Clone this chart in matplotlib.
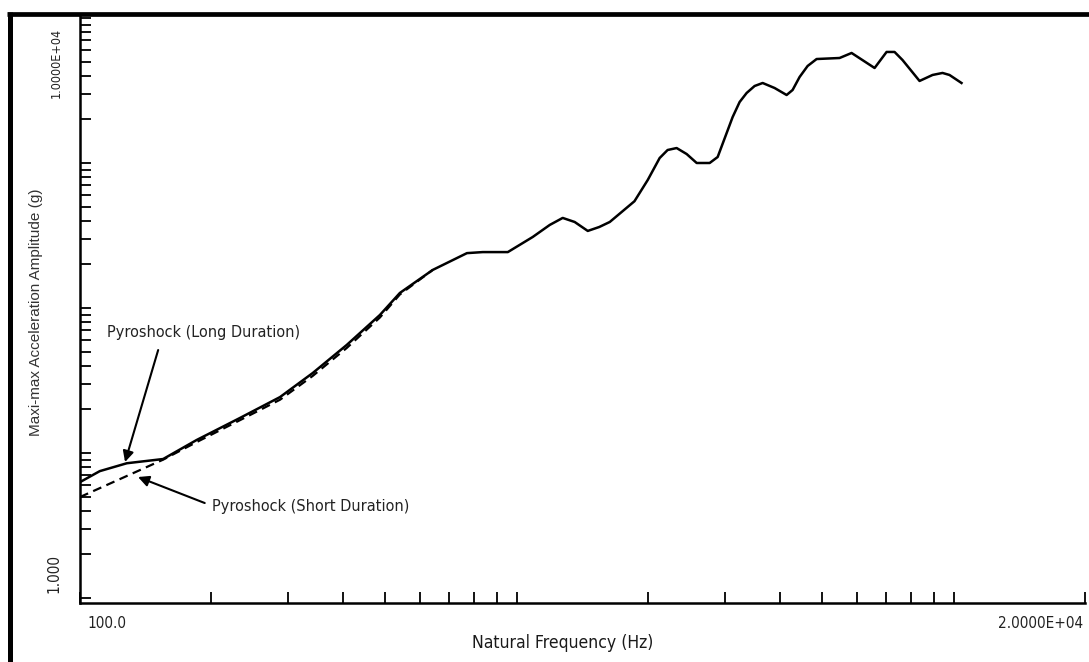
import numpy as np
import matplotlib
matplotlib.use("Agg")
import matplotlib.pyplot as plt
from matplotlib.ticker import LogLocator, NullFormatter
from matplotlib.lines import Line2D

# ---- data ----
freq_long_start = [100, 111, 128, 155]
g_long_start = [6.3, 7.5, 8.5, 9.09]

freq_common = [155, 185, 232, 287, 341, 408, 486, 540, 642, 769, 836, 954,
               1088, 1190, 1274, 1357, 1454, 1545, 1633, 1860, 1995, 2124,
               2215, 2323, 2449, 2582, 2765, 2884, 3121, 3238, 3360, 3504,
               3656, 3894, 4148, 4281, 4442, 4634, 4859, 5484, 5843, 6596,
               7026, 7328, 7642, 8360, 8954, 9437, 9790, 10430]
g_common = [9.09, 12.3, 17.4, 24.3, 35.6, 55.6, 89.5, 127, 183, 239, 243, 243,
            309, 374, 418, 392, 340, 362, 392, 545, 764, 1082,
            1229, 1268, 1153, 1000, 1000, 1100, 2075, 2634, 3040, 3396,
            3562, 3289, 2944, 3187, 3918, 4667, 5212, 5297, 5737, 4520,
            5831, 5831, 5131, 3679, 4046, 4178, 4046, 3562]

freq_short = [100, 155, 185, 232, 287, 341, 408, 486, 540, 642]
g_short = [4.97, 9.0, 11.9, 16.8, 23.3, 34.0, 53.0, 86, 124, 183]

x_label_left = "100.0"
x_label_right = "2.0000E+04"
y_label_bottom = "1.000"
y_label_top = "1.0000E+04"
xlabel = "Natural Frequency (Hz)"
ylabel = "Maxi-max Acceleration Amplitude (g)"
long_label = "Pyroshock (Long Duration)"
short_label = "Pyroshock (Short Duration)"

NARROW = dict(family="DejaVu Sans", stretch="condensed")
REG = ["Liberation Sans", "DejaVu Sans"]

W, H = 1089, 662
fig = plt.figure(figsize=(W / 100, H / 100), dpi=100)
fig.patch.set_facecolor("white")
ax = fig.add_axes([80 / W, 1 - 603 / H, (1085 - 80) / W, (603 - 16) / H])

freq_long = freq_long_start + freq_common[1:]
g_long = g_long_start + g_common[1:]

ax.plot(freq_long, g_long, color="black", lw=1.8, solid_joinstyle="round")
ax.plot(freq_short, g_short, color="black", lw=1.6, linestyle=(0, (4, 2.5)))

ax.set_xscale("log")
ax.set_yscale("log")
ax.set_xlim(100, 20000)
ax.set_ylim(0.924, 10320)

for s in ("top", "right"):
    ax.spines[s].set_visible(False)
for s in ("left", "bottom"):
    ax.spines[s].set_linewidth(1.8)
    ax.spines[s].set_color("black")

for axis in (ax.xaxis, ax.yaxis):
    axis.set_major_locator(LogLocator(base=10, subs=(1.0,)))
    axis.set_minor_locator(LogLocator(base=10, subs=np.arange(2, 10), numticks=20))
    axis.set_major_formatter(NullFormatter())
    axis.set_minor_formatter(NullFormatter())
ax.tick_params(which="both", direction="in", length=8, width=1.3, color="black")

# annotations
ax.text(115.3, 68.3, long_label, fontsize=11.6, color="#222222",
        ha="left", va="center", **NARROW)
ax.annotate("", xy=(126.8, 8.67), xytext=(151, 51.3),
            arrowprops=dict(arrowstyle="-|>", color="black", lw=1.5,
                            mutation_scale=16, shrinkA=0, shrinkB=0))
ax.text(200.5, 4.31, short_label, fontsize=11.6, color="#222222",
        ha="left", va="center", **NARROW)
ax.annotate("", xy=(135.8, 6.83), xytext=(193, 4.52),
            arrowprops=dict(arrowstyle="-|>", color="black", lw=1.5,
                            mutation_scale=16, shrinkA=0, shrinkB=0))

# axis end labels and titles
fig.text(87 / W, 1 - 623 / H, x_label_left, fontsize=11, color="#222222",
         ha="left", va="center", **NARROW)
fig.text(1083 / W, 1 - 623 / H, x_label_right, fontsize=11, color="#222222",
         ha="right", va="center", **NARROW)
fig.text(54 / W, 1 - 593 / H, y_label_bottom, fontsize=11, color="#222222",
         ha="center", va="bottom", rotation=90, **NARROW)
fig.text(56 / W, 1 - 28 / H, y_label_top, fontsize=9, color="#222222",
         ha="center", va="top", rotation=90, **NARROW)
fig.text(563 / W, 1 - 643 / H, xlabel, fontsize=12.6, color="#1a1a1a",
         ha="center", va="center", **NARROW)
fig.text(36 / W, 1 - 312 / H, ylabel, fontsize=11, family=REG,
         color="#333333", ha="center", va="center", rotation=90)

# outer frame (left and top edges)
fig.add_artist(Line2D([9.5 / W, 9.5 / W], [0, 1 - 12 / H], transform=fig.transFigure,
                      color="black", lw=3.6, solid_capstyle="butt"))
fig.add_artist(Line2D([7 / W, 1], [1 - 14 / H, 1 - 14 / H], transform=fig.transFigure,
                      color="black", lw=3.4, solid_capstyle="butt"))

fig.savefig("out.png", dpi=100)
